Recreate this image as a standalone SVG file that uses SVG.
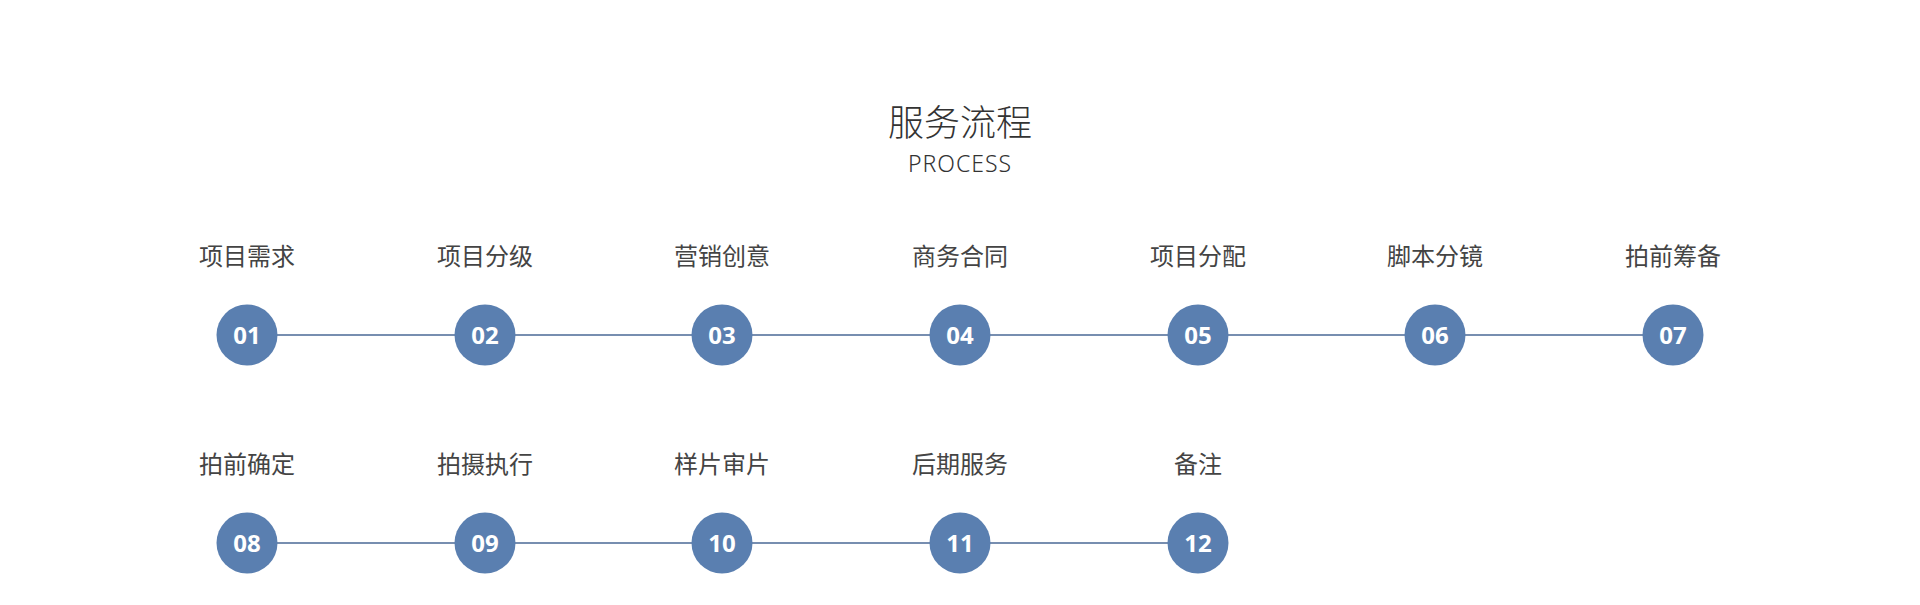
<svg xmlns="http://www.w3.org/2000/svg" width="1920" height="605" viewBox="0 0 1920 605">
<style>
.t{font-family:"Noto Sans CJK SC","Noto Sans",sans-serif;fill:#333;text-anchor:middle}
.l{font-size:24px;fill:#444}
.c{fill:#5a7fb0}
.n{font-family:"Noto Sans","Open Sans",sans-serif;font-weight:bold;font-size:24px;fill:#fff;text-anchor:middle}
.k{stroke:#4a6896;stroke-width:1.5}
</style>
<rect width="1920" height="605" fill="#fff"/>
<text class="t" x="960" y="136" font-size="36" font-weight="300">服务流程</text>
<text class="t" x="960" y="172" font-size="23" style="font-family:'Noto Sans',sans-serif;font-weight:300;letter-spacing:1px">PROCESS</text>
<g id="connectors">
<line class="k" x1="247" y1="335" x2="1673" y2="335"/>
<line class="k" x1="247" y1="543" x2="1198" y2="543"/>
</g>
<g id="n01"><text class="t l" x="247" y="265">项目需求</text><circle class="c" cx="247" cy="335" r="30.5"/><text class="n" x="247" y="344">01</text></g>
<g id="n02"><text class="t l" x="485" y="265">项目分级</text><circle class="c" cx="485" cy="335" r="30.5"/><text class="n" x="485" y="344">02</text></g>
<g id="n03"><text class="t l" x="722" y="265">营销创意</text><circle class="c" cx="722" cy="335" r="30.5"/><text class="n" x="722" y="344">03</text></g>
<g id="n04"><text class="t l" x="960" y="265">商务合同</text><circle class="c" cx="960" cy="335" r="30.5"/><text class="n" x="960" y="344">04</text></g>
<g id="n05"><text class="t l" x="1198" y="265">项目分配</text><circle class="c" cx="1198" cy="335" r="30.5"/><text class="n" x="1198" y="344">05</text></g>
<g id="n06"><text class="t l" x="1435" y="265">脚本分镜</text><circle class="c" cx="1435" cy="335" r="30.5"/><text class="n" x="1435" y="344">06</text></g>
<g id="n07"><text class="t l" x="1673" y="265">拍前筹备</text><circle class="c" cx="1673" cy="335" r="30.5"/><text class="n" x="1673" y="344">07</text></g>
<g id="n08"><text class="t l" x="247" y="473">拍前确定</text><circle class="c" cx="247" cy="543" r="30.5"/><text class="n" x="247" y="552">08</text></g>
<g id="n09"><text class="t l" x="485" y="473">拍摄执行</text><circle class="c" cx="485" cy="543" r="30.5"/><text class="n" x="485" y="552">09</text></g>
<g id="n10"><text class="t l" x="722" y="473">样片审片</text><circle class="c" cx="722" cy="543" r="30.5"/><text class="n" x="722" y="552">10</text></g>
<g id="n11"><text class="t l" x="960" y="473">后期服务</text><circle class="c" cx="960" cy="543" r="30.5"/><text class="n" x="960" y="552">11</text></g>
<g id="n12"><text class="t l" x="1198" y="473">备注</text><circle class="c" cx="1198" cy="543" r="30.5"/><text class="n" x="1198" y="552">12</text></g>
</svg>
